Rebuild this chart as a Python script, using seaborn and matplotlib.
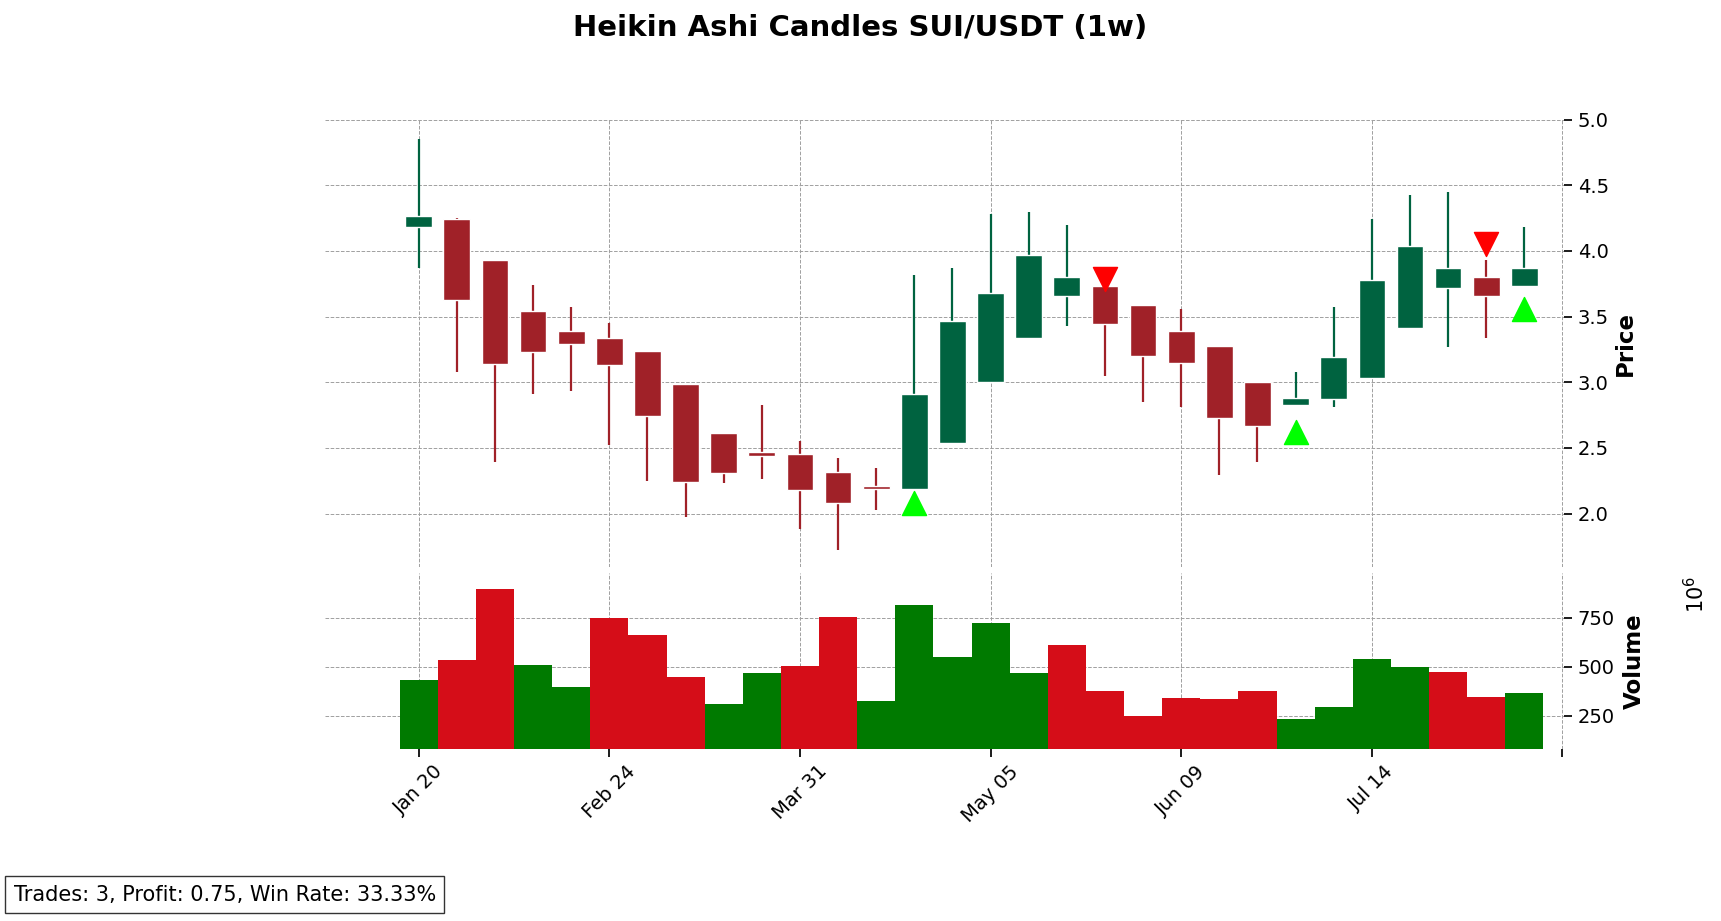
import numpy as np
import pandas as pd
import matplotlib
matplotlib.use("Agg")
import matplotlib.pyplot as plt
import seaborn as sns

dates = pd.date_range("2025-01-20", periods=30, freq="7D")
ha_open  = [4.18,4.24,3.93,3.54,3.39,3.34,3.24,2.99,2.61,2.47,2.45,2.32,2.20,2.19,2.54,3.00,3.34,3.66,3.73,3.59,3.39,3.28,3.00,2.83,2.87,3.03,3.41,3.72,3.80,3.73]
ha_close = [4.27,3.63,3.14,3.23,3.29,3.13,2.74,2.24,2.31,2.44,2.18,2.08,2.19,2.91,3.47,3.68,3.97,3.80,3.44,3.20,3.15,2.73,2.67,2.88,3.19,3.78,4.04,3.87,3.66,3.87]
ha_high  = [4.85,4.25,3.93,3.74,3.57,3.45,3.24,2.99,2.61,2.83,2.55,2.42,2.35,3.82,3.87,4.28,4.30,4.20,3.73,3.59,3.56,3.28,3.00,3.08,3.57,4.24,4.43,4.45,3.93,4.18]
ha_low   = [3.87,3.08,2.39,2.91,2.93,2.52,2.25,1.97,2.23,2.26,1.88,1.72,2.03,2.19,2.54,3.00,3.34,3.43,3.05,2.85,2.81,2.29,2.39,2.83,2.81,3.03,3.41,3.27,3.34,3.73]
volume   = [435,537,896,508,396,750,660,447,312,469,503,756,323,817,548,722,469,610,374,250,340,334,374,233,295,542,497,475,346,368]
vol_up   = [1,0,0,1,1,0,0,0,1,1,0,0,1,1,1,1,1,0,0,0,0,0,0,1,1,1,1,0,0,1]
buy_idx, buy_px = [13,23,29], [2.08,2.62,3.56]
sell_idx, sell_px = [18,28], [3.79,4.05]

sns.set_theme(style="white", rc={"text.color": "black", "axes.labelcolor": "black",
                                 "xtick.color": "black", "ytick.color": "black",
                                 "font.family": "DejaVu Sans"})
fig = plt.figure(figsize=(17.21, 9.21), dpi=100)
axp = fig.add_axes([0.189, 0.384, 0.720, 0.486])
axv = fig.add_axes([0.189, 0.187, 0.720, 0.191], sharex=axp)

x = np.arange(len(dates))
o, c, h, l = map(np.array, (ha_open, ha_close, ha_high, ha_low))
up = c >= o
cols = np.where(up, "#006340", "#a02128")
axp.vlines(x, l, h, colors=cols, lw=1.6, zorder=2)
axp.bar(x, np.maximum(np.abs(c - o), 0.02), bottom=np.minimum(o, c), width=0.7, color=cols, zorder=3)
axp.scatter(buy_idx, buy_px, marker="^", s=300, color="#00ff00", zorder=4)
axp.scatter(sell_idx, sell_px, marker="v", s=300, color="#ff0000", zorder=4)

df = pd.DataFrame({"x": x, "vol": volume, "dir": np.where(np.array(vol_up) == 1, "up", "down")})
sns.barplot(data=df, x="x", y="vol", hue="dir", palette={"up": "#007a00", "down": "#d50d18"},
            dodge=False, width=1.0, native_scale=True, legend=False, ax=axv, edgecolor="none", saturation=1)

for ax in (axp, axv):
    for s in ax.spines.values():
        s.set_visible(False)
    ax.yaxis.tick_right()
    ax.yaxis.set_label_position("right")
    ax.grid(True, ls="--", color="#a0a0a0", lw=0.7)
    ax.set_axisbelow(True)
    ax.tick_params(axis="y", labelsize=14, right=True, length=6)

axp.set_ylim(1.59, 5.0)
axp.set_yticks([2.0, 2.5, 3.0, 3.5, 4.0, 4.5, 5.0])
axp.set_ylabel("Price", fontsize=16.5, fontweight="bold")
axp.tick_params(axis="x", labelbottom=False)
axv.set_ylim(81, 980)
axv.set_yticks([250, 500, 750])
axv.set_ylabel("Volume", fontsize=16.5, fontweight="bold", labelpad=6)
axv.set_xlabel("")
fig.text(0.978, 0.375, r"$10^6$", fontsize=15, rotation=90, va="top")
axv.set_xlim(-2.45, 30.05)
ticks = [0, 5, 10, 15, 20, 25, 30]
axv.set_xticks(ticks)
axv.set_xticklabels([dates[i].strftime("%b %d") if i < len(dates) else "" for i in ticks], rotation=45, fontsize=14, ha="center")
axv.tick_params(axis="x", bottom=True, length=6)

fig.suptitle("Heikin Ashi Candles SUI/USDT (1w)", fontsize=21, fontweight="bold", y=0.985)
fig.text(0.008, 0.022, "Trades: 3, Profit: 0.75, Win Rate: 33.33%", fontsize=15,
         bbox=dict(facecolor="white", edgecolor="#333333", boxstyle="square,pad=0.4"))
fig.savefig("out.png", dpi=100)
